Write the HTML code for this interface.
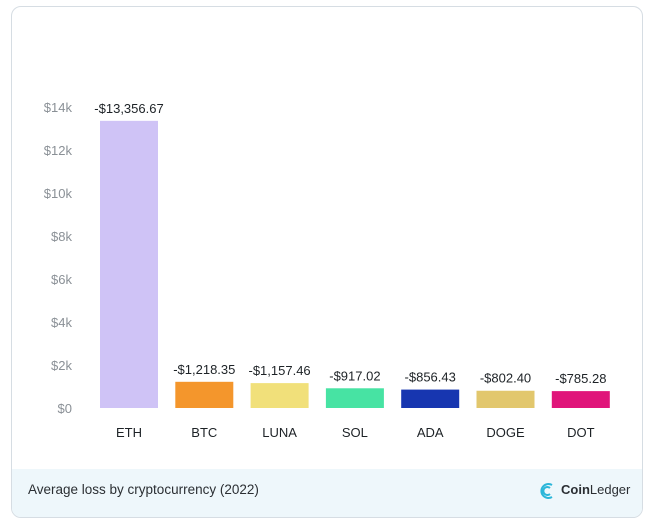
<!DOCTYPE html>
<html><head><meta charset="utf-8"><style>
body{margin:0;width:656px;height:503px;background:#fff;font-family:"Liberation Sans",sans-serif;overflow:hidden;position:relative}
#card{position:absolute;left:11px;top:6px;width:630px;height:510px;border:1px solid #d6dde3;border-radius:10px;overflow:hidden}
#footer{position:absolute;left:0;top:462px;width:100%;height:48px;background:#eef7fb}
.ft{position:absolute;top:13px;font-size:13.5px;color:#2b2f33}
svg{position:absolute;left:0;top:0}
</style></head><body>
<div id="card">
<div id="footer">
<span class="ft" style="left:16px">Average loss by cryptocurrency (2022)</span>
<svg style="left:527px;top:12px" width="18" height="20" viewBox="0 0 18 20"><path d="M13 4 A7 7 0 1 0 13 16 M11 7 A4 4 0 1 0 11 13" fill="none" stroke="#2bb6d9" stroke-width="2"/></svg>
<span class="ft" style="left:549px;font-size:13px"><b>Coin</b>Ledger</span>
</div>
</div>
<svg id="chart" width="656" height="503"></svg>
<script>
const categories=["ETH","BTC","LUNA","SOL","ADA","DOGE","DOT"];
const values=[13356.67,1218.35,1157.46,917.02,856.43,802.40,785.28];
const valueLabels=["-$13,356.67","-$1,218.35","-$1,157.46","-$917.02","-$856.43","-$802.40","-$785.28"];
const colors=["#cfc3f6","#f4962c","#f1e07a","#47e3a3","#1736b0","#e2c76d","#e0157a"];
const ticks=[0,2000,4000,6000,8000,10000,12000,14000];
const tickLabels=["$0","$2k","$4k","$6k","$8k","$10k","$12k","$14k"];
const svg=document.getElementById('chart');const NS='http://www.w3.org/2000/svg';
const y=v=>408-v*(301/14000);
const x=i=>100+i*75.3;
const bw=58;
function mk(t,a,txt){const e=document.createElementNS(NS,t);for(const k in a)e.setAttribute(k,a[k]);if(txt!=null)e.textContent=txt;svg.appendChild(e);return e;}
ticks.forEach((t,i)=>{const e=mk('text',{x:72,y:y(t)+5,'text-anchor':'end','font-size':13,fill:'#8a9096','font-family':'Liberation Sans'},tickLabels[i]);

});
categories.forEach((c,i)=>{
const r=mk('rect',{x:x(i),y:y(values[i]),width:bw,height:408-y(values[i]),fill:colors[i]});


const l=mk('text',{x:x(i)+bw/2,y:y(values[i])-8,'text-anchor':'middle','font-size':13,fill:'#1d2226','font-family':'Liberation Sans'},valueLabels[i]);


const cl=mk('text',{x:x(i)+bw/2,y:437,'text-anchor':'middle','font-size':13,fill:'#1d2226','font-family':'Liberation Sans'},c);


});
</script>
</body></html>
